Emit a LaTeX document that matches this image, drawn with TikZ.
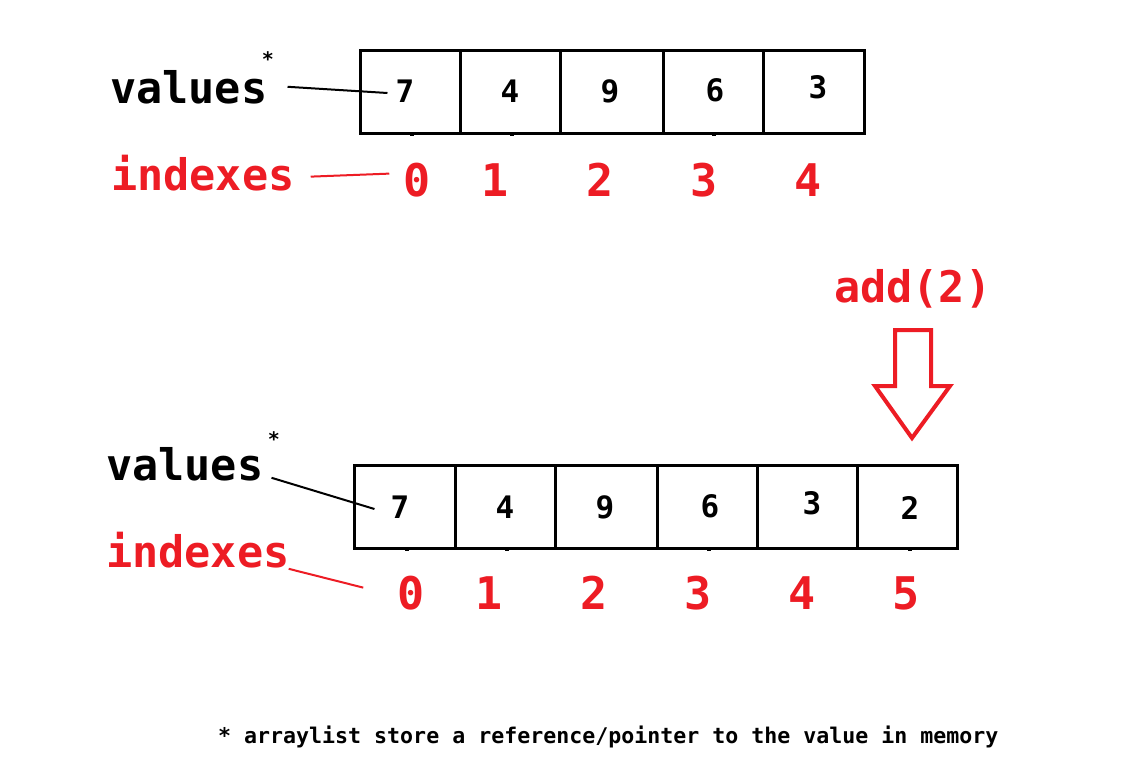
\documentclass[tikz,border=0pt]{standalone}
\usepackage{fontspec}
\setmainfont{DejaVu Sans Mono}
\usetikzlibrary{calc}
\definecolor{pred}{RGB}{237,28,36}
\begin{document}
\begin{tikzpicture}[x=1pt,y=-1pt,
  word/.style={inner sep=0,anchor=base west,font=\fontsize{43.5}{48}\selectfont\bfseries},
  idx/.style={inner sep=0,anchor=base,text=pred,font=\fontsize{45}{50}\selectfont\bfseries},
  val/.style={inner sep=0,font=\fontsize{31}{36}\selectfont\bfseries},
  cell/.style={draw,line width=3pt,minimum height=83pt,inner sep=0},
  star/.style={inner sep=0,font=\fontsize{20}{22}\selectfont\bfseries},
  tick/.style={fill=black},
  link/.style={line width=2pt},
  rlink/.style={line width=2pt,draw=pred}]
\useasboundingbox (0,0) rectangle (1144,774);
\fill[white] (0,0) rectangle (1144,774);

% ---------- top array ----------
\foreach \c/\w [count=\i from 0] in {410/100,510/100,611.5/103,713/100,813.5/101}
  \node[cell,minimum width=\w pt] (tc\i) at (\c,91.5) {};
\foreach \x in {412,512,714}
  \fill[tick] (\x-2,134) rectangle (\x+2,136);
\foreach \v/\x/\y [count=\i from 0] in {7/405/91,4/510/91,9/610/91,6/715/90,3/818/87}
  \node[val] (tv\i) at (\x,\y) {\v};

\node[word] (tvals) at (110,103) {values};
\node[star] (tstar) at (268,59) {*};
\node[word,text=pred] (tidx) at (111,190) {indexes};
\foreach \n/\x [count=\i from 0] in {0/417,1/495,2/600,3/704,4/808}
  \node[idx] (ti\i) at (\x,196) {\n};

\draw[link] ($(tvals.east)+(20,0)$) -- ($(tv0.west)+(-8,2)$);
\draw[rlink] ($(tidx.east)+(16,4)$) -- ($(ti0.west)+(-14,-6)$);

% ---------- add(2) arrow ----------
\node[word,text=pred] (add) at (834,302) {add(2)};
\draw[line width=4pt,draw=pred,line join=miter]
  (895,330) -- (931,330) -- (931,386) -- (950,386) -- (912,438) -- (875,386) -- (895,386) -- cycle;

% ---------- bottom array ----------
\foreach \c/\w [count=\i from 0] in {404.5/101,505/100,606/102,707/100,807/100,907/100}
  \node[cell,minimum width=\w pt] (bc\i) at (\c,506.5) {};
\foreach \x in {407,507,709,910}
  \fill[tick] (\x-2,549) rectangle (\x+2,551);
\foreach \v/\x/\y [count=\i from 0] in {7/400/507,4/505/507,9/605/507,6/710/506,3/812/503,2/910/508}
  \node[val] (bv\i) at (\x,\y) {\v};

\node[word] (bvals) at (106,480) {values};
\node[star] (bstar) at (274,439) {*};
\node[word,text=pred] (bidx) at (106,567) {indexes};
\foreach \n/\x [count=\i from 0] in {0/411,1/489,2/594,3/698,4/802,5/906}
  \node[idx] (bi\i) at (\x,609) {\n};

\draw[link] ($(bvals.east)+(8,14)$) -- ($(bv0.west)+(-16,2)$);
\draw[rlink] ($(bidx.south east)+(-1,1)$) -- ($(bi0.west)+(-34,-5)$);

% ---------- footnote ----------
\node[inner sep=0,anchor=base west,font=\fontsize{21.6}{24}\selectfont\bfseries] (note) at (218,743)
  {* arraylist store a reference/pointer to the value in memory};
\end{tikzpicture}
\end{document}
